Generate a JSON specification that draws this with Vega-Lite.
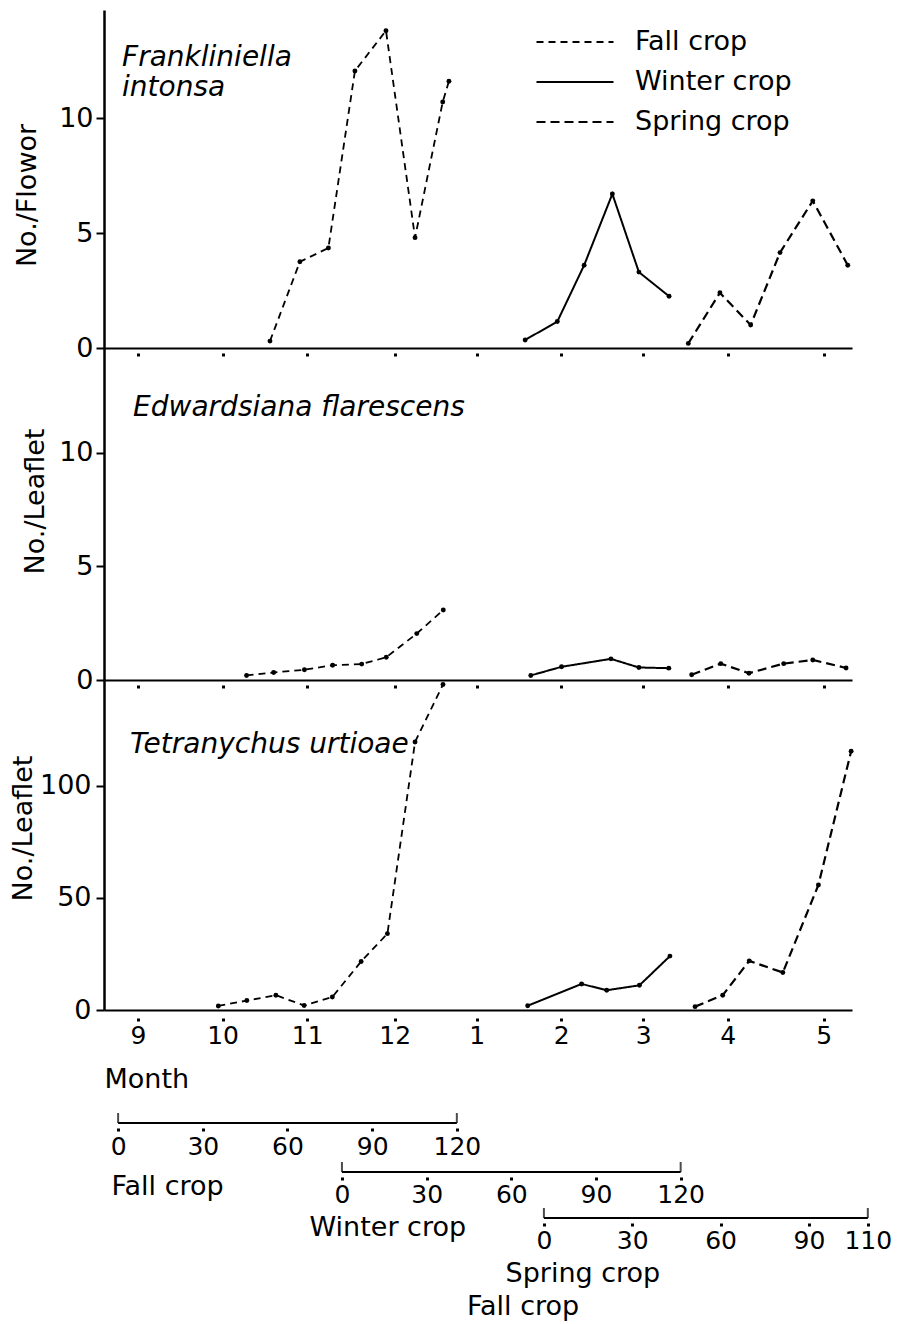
{
  "$schema": "https://vega.github.io/schema/vega-lite/v6.json",
  "background": "white",
  "padding": {"left": 9, "top": 10, "right": 4, "bottom": 4},
  "config": {
    "font": "DejaVu Sans",
    "view": {"stroke": null},
    "axis": {"labelFont": "DejaVu Sans", "titleFont": "DejaVu Sans", "labelColor": "black", "titleColor": "black", "domainColor": "black", "tickColor": "black", "grid": false, "titleFontWeight": "normal"},
    "legend": {"labelFont": "DejaVu Sans", "labelColor": "black"}
  },
  "datasets": {
    "fr": [
      {"crop": "Fall crop", "day": 53.8, "value": 0.3},
      {"crop": "Fall crop", "day": 64.4, "value": 3.75},
      {"crop": "Fall crop", "day": 74.5, "value": 4.35},
      {"crop": "Fall crop", "day": 83.9, "value": 12.05},
      {"crop": "Fall crop", "day": 94.9, "value": 13.8},
      {"crop": "Fall crop", "day": 105.2, "value": 4.8},
      {"crop": "Fall crop", "day": 115.0, "value": 10.7},
      {"crop": "Fall crop", "day": 117.2, "value": 11.6},
      {"crop": "Winter crop", "day": 144.2, "value": 0.35},
      {"crop": "Winter crop", "day": 155.6, "value": 1.15},
      {"crop": "Winter crop", "day": 165.1, "value": 3.6},
      {"crop": "Winter crop", "day": 175.1, "value": 6.7},
      {"crop": "Winter crop", "day": 184.5, "value": 3.3},
      {"crop": "Winter crop", "day": 195.2, "value": 2.25},
      {"crop": "Spring crop", "day": 202.0, "value": 0.2},
      {"crop": "Spring crop", "day": 213.2, "value": 2.4},
      {"crop": "Spring crop", "day": 224.1, "value": 1.0},
      {"crop": "Spring crop", "day": 234.5, "value": 4.15},
      {"crop": "Spring crop", "day": 246.1, "value": 6.4},
      {"crop": "Spring crop", "day": 258.5, "value": 3.6}
    ],
    "ed": [
      {"crop": "Fall crop", "day": 45.5, "value": 0.2},
      {"crop": "Fall crop", "day": 55.1, "value": 0.33},
      {"crop": "Fall crop", "day": 66.0, "value": 0.45},
      {"crop": "Fall crop", "day": 76.0, "value": 0.65},
      {"crop": "Fall crop", "day": 86.3, "value": 0.7},
      {"crop": "Fall crop", "day": 95.0, "value": 1.0},
      {"crop": "Fall crop", "day": 105.8, "value": 2.04},
      {"crop": "Fall crop", "day": 115.2, "value": 3.08},
      {"crop": "Winter crop", "day": 146.2, "value": 0.2},
      {"crop": "Winter crop", "day": 157.1, "value": 0.58},
      {"crop": "Winter crop", "day": 174.6, "value": 0.93},
      {"crop": "Winter crop", "day": 184.5, "value": 0.55},
      {"crop": "Winter crop", "day": 195.1, "value": 0.52},
      {"crop": "Spring crop", "day": 203.2, "value": 0.23},
      {"crop": "Spring crop", "day": 213.5, "value": 0.72},
      {"crop": "Spring crop", "day": 223.5, "value": 0.3},
      {"crop": "Spring crop", "day": 235.8, "value": 0.72},
      {"crop": "Spring crop", "day": 246.1, "value": 0.88},
      {"crop": "Spring crop", "day": 257.9, "value": 0.53}
    ],
    "te": [
      {"crop": "Fall crop", "day": 35.5, "value": 1.8},
      {"crop": "Fall crop", "day": 45.6, "value": 4.2},
      {"crop": "Fall crop", "day": 55.9, "value": 6.6},
      {"crop": "Fall crop", "day": 65.9, "value": 2.0},
      {"crop": "Fall crop", "day": 75.9, "value": 5.8},
      {"crop": "Fall crop", "day": 86.1, "value": 21.6},
      {"crop": "Fall crop", "day": 95.4, "value": 34},
      {"crop": "Fall crop", "day": 105.2, "value": 119.4},
      {"crop": "Fall crop", "day": 115.1, "value": 145},
      {"crop": "Winter crop", "day": 145.1, "value": 1.9},
      {"crop": "Winter crop", "day": 164.2, "value": 11.6},
      {"crop": "Winter crop", "day": 173.1, "value": 8.8},
      {"crop": "Winter crop", "day": 184.7, "value": 11},
      {"crop": "Winter crop", "day": 195.5, "value": 24},
      {"crop": "Spring crop", "day": 204.4, "value": 1.5},
      {"crop": "Spring crop", "day": 214.2, "value": 6.6},
      {"crop": "Spring crop", "day": 223.6, "value": 21.9},
      {"crop": "Spring crop", "day": 235.5, "value": 16.7},
      {"crop": "Spring crop", "day": 248.1, "value": 55.7},
      {"crop": "Spring crop", "day": 259.7, "value": 115.3}
    ]
  },
  "bounds": "flush",
  "spacing": 0,
  "vconcat": [
    {
      "width": 748,
      "height": 338,
      "layer": [
        {
          "data": {"name": "fr"},
          "mark": {"type": "line", "color": "black"},
          "encoding": {
            "x": {"field": "day", "type": "quantitative", "scale": {"domain": [-5, 260], "nice": false, "zero": false},
              "axis": {"values": [7, 37, 67, 98, 127, 157, 186, 216, 250], "labels": false, "title": null, "domainWidth": 2, "tickSize": 9, "tickWidth": 3, "tickDash": [0, 5, 3, 20]}},
            "y": {"field": "value", "type": "quantitative", "scale": {"domain": [0, 14.7], "nice": false},
              "axis": {"values": [0, 5, 10], "title": "No./Flowor", "titleFontSize": 27, "titleX": -77, "titleY": 185, "titleAngle": 270, "titleBaseline": "middle", "titleAlign": "center", "labelFontSize": 27, "labelPadding": 3, "tickSize": 8, "tickWidth": 2, "domainWidth": 2.5}},
            "strokeDash": {"field": "crop", "type": "nominal",
              "scale": {"domain": ["Fall crop", "Winter crop", "Spring crop"], "range": [[7, 5], [1, 0], [9, 5]]},
              "legend": {"orient": "none", "legendX": 431, "legendY": 17, "title": null, "symbolType": "stroke", "symbolSize": 5929, "symbolStrokeColor": "black", "labelFontSize": 27, "labelOffset": 20, "labelLimit": 300, "clipHeight": 30, "rowPadding": 10}},
            "strokeWidth": {"field": "crop", "type": "nominal",
              "scale": {"domain": ["Fall crop", "Winter crop", "Spring crop"], "range": [1.8, 2.2, 3.8]},
              "legend": {"orient": "none", "legendX": 431, "legendY": 17, "title": null, "symbolType": "stroke", "symbolSize": 5929, "symbolStrokeColor": "black", "labelFontSize": 27, "labelOffset": 20, "labelLimit": 300, "clipHeight": 30, "rowPadding": 10}}
          }
        },
        {
          "data": {"name": "fr"},
          "mark": {"type": "point", "filled": true, "color": "black", "size": 24, "opacity": 1},
          "encoding": {"x": {"field": "day", "type": "quantitative"}, "y": {"field": "value", "type": "quantitative"}}
        },
        {
          "data": {"values": [{"day": 1.4, "value": 12.26, "name": "Frankliniella\nintonsa"}]},
          "mark": {"type": "text", "fontStyle": "italic", "fontSize": 28, "align": "left", "baseline": "alphabetic", "lineHeight": 30, "lineBreak": "\n", "color": "black"},
          "encoding": {"x": {"field": "day", "type": "quantitative"}, "y": {"field": "value", "type": "quantitative"}, "text": {"field": "name"}}
        }
      ]
    },
    {
      "width": 748,
      "height": 332,
      "layer": [
        {
          "data": {"name": "ed"},
          "mark": {"type": "line", "color": "black"},
          "encoding": {
            "x": {"field": "day", "type": "quantitative", "scale": {"domain": [-5, 260], "nice": false, "zero": false},
              "axis": {"values": [7, 37, 67, 98, 127, 157, 186, 216, 250], "labels": false, "title": null, "domainWidth": 2, "tickSize": 9, "tickWidth": 3, "tickDash": [0, 5, 3, 20]}},
            "y": {"field": "value", "type": "quantitative", "scale": {"domain": [0, 14.6], "nice": false},
              "axis": {"values": [0, 5, 10], "title": "No./Leaflet", "titleFontSize": 27, "titleX": -69, "titleY": 153, "titleAngle": 270, "titleBaseline": "middle", "titleAlign": "center", "labelFontSize": 27, "labelPadding": 3, "tickSize": 8, "tickWidth": 2, "domainWidth": 2.5}},
            "strokeDash": {"field": "crop", "type": "nominal", "legend": null},
            "strokeWidth": {"field": "crop", "type": "nominal", "legend": null}
          }
        },
        {
          "data": {"name": "ed"},
          "mark": {"type": "point", "filled": true, "color": "black", "size": 24, "opacity": 1},
          "encoding": {"x": {"field": "day", "type": "quantitative"}, "y": {"field": "value", "type": "quantitative"}}
        },
        {
          "data": {"values": [{"day": 5.3, "value": 11.6, "name": "Edwardsiana flarescens"}]},
          "mark": {"type": "text", "fontStyle": "italic", "fontSize": 28, "align": "left", "baseline": "alphabetic", "color": "black"},
          "encoding": {"x": {"field": "day", "type": "quantitative"}, "y": {"field": "value", "type": "quantitative"}, "text": {"field": "name"}}
        }
      ]
    },
    {
      "width": 748,
      "height": 330,
      "layer": [
        {
          "data": {"name": "te"},
          "mark": {"type": "line", "color": "black"},
          "encoding": {
            "x": {"field": "day", "type": "quantitative", "scale": {"domain": [-5, 260], "nice": false, "zero": false},
              "axis": {"values": [7, 37, 67, 98, 127, 157, 186, 216, 250],
                "labelExpr": "datum.value == 7 ? '9' : datum.value == 37 ? '10' : datum.value == 67 ? '11' : datum.value == 98 ? '12' : datum.value == 127 ? '1' : datum.value == 157 ? '2' : datum.value == 186 ? '3' : datum.value == 216 ? '4' : '5'",
                "labelFontSize": 25, "labelPadding": 1, "labelFlush": false, "labelOverlap": false,
                "title": "Month", "titleFontSize": 27, "titleX": 0, "titleY": 77, "titleAlign": "left", "titleAnchor": "start", "titleBaseline": "alphabetic",
                "domainWidth": 2, "tickSize": 12, "tickWidth": 3, "tickDash": [0, 8, 3, 20]}},
            "y": {"field": "value", "type": "quantitative", "scale": {"domain": [0, 147], "nice": false},
              "axis": {"values": [0, 50, 100], "title": "No./Leaflet", "titleFontSize": 27, "titleX": -81, "titleY": 148, "titleAngle": 270, "titleBaseline": "middle", "titleAlign": "center", "labelFontSize": 27, "labelPadding": 5, "tickSize": 8, "tickWidth": 2, "domainWidth": 2.5}},
            "strokeDash": {"field": "crop", "type": "nominal", "legend": null},
            "strokeWidth": {"field": "crop", "type": "nominal", "legend": null}
          }
        },
        {
          "data": {"name": "te"},
          "mark": {"type": "point", "filled": true, "color": "black", "size": 24, "opacity": 1},
          "encoding": {"x": {"field": "day", "type": "quantitative"}, "y": {"field": "value", "type": "quantitative"}}
        },
        {
          "data": {"values": [{"day": 4.2, "value": 114.5, "name": "Tetranychus urtioae"}]},
          "mark": {"type": "text", "fontStyle": "italic", "fontSize": 28, "align": "left", "baseline": "alphabetic", "color": "black"},
          "encoding": {"x": {"field": "day", "type": "quantitative"}, "y": {"field": "value", "type": "quantitative"}, "text": {"field": "name"}}
        }
      ]
    },
    {
      "width": 748,
      "height": 113,
      "layer": [
        {
          "data": {"values": [{"start": 0, "end": 120}]},
          "mark": {"type": "rule", "color": "black", "strokeWidth": 2},
          "encoding": {
            "x": {"field": "start", "type": "quantitative", "scale": {"domain": [-5, 260], "nice": false, "zero": false},
              "axis": {"values": [0, 30, 60, 90, 120], "domain": false, "tickSize": 10, "tickWidth": 3, "tickDash": [0, 5, 3, 20], "labelFontSize": 25, "labelPadding": 1, "labelFlush": false, "labelOverlap": false,
                "title": "Fall crop", "titleFontSize": 27, "titleX": 7, "titleY": 71, "titleAlign": "left", "titleAnchor": "start", "titleBaseline": "alphabetic"}},
            "x2": {"field": "end"},
            "y": {"datum": 0, "type": "quantitative", "scale": {"domain": [0, 1]}, "axis": null}
          }
        },
        {
          "data": {"values": [{"cap": 0}, {"cap": 120}]},
          "mark": {"type": "tick", "orient": "vertical", "color": "black", "thickness": 2, "size": 10, "yOffset": -5},
          "encoding": {"x": {"field": "cap", "type": "quantitative"}, "y": {"datum": 0, "type": "quantitative"}}
        }
      ]
    },
    {
      "width": 748,
      "height": 49,
      "layer": [
        {
          "data": {"values": [{"start": 0, "end": 120}]},
          "mark": {"type": "rule", "color": "black", "strokeWidth": 2},
          "encoding": {
            "x": {"field": "start", "type": "quantitative", "scale": {"domain": [-84.3, 180.7], "nice": false, "zero": false},
              "axis": {"values": [0, 30, 60, 90, 120], "domain": false, "tickSize": 10, "tickWidth": 3, "tickDash": [0, 5, 3, 20], "labelFontSize": 25, "labelPadding": 0, "labelFlush": false, "labelOverlap": false,
                "title": "Winter crop", "titleFontSize": 27, "titleX": 205, "titleY": 63, "titleAlign": "left", "titleAnchor": "start", "titleBaseline": "alphabetic"}},
            "x2": {"field": "end"},
            "y": {"datum": 0, "type": "quantitative", "scale": {"domain": [0, 1]}, "axis": null}
          }
        },
        {
          "data": {"values": [{"cap": 0}, {"cap": 120}]},
          "mark": {"type": "tick", "orient": "vertical", "color": "black", "thickness": 2, "size": 10, "yOffset": -5},
          "encoding": {"x": {"field": "cap", "type": "quantitative"}, "y": {"datum": 0, "type": "quantitative"}}
        }
      ]
    },
    {
      "width": 770,
      "height": 46,
      "title": {"text": "Fall crop", "orient": "bottom", "anchor": "start", "frame": "group", "dx": 363, "offset": 8, "fontSize": 27, "fontWeight": "normal", "font": "DejaVu Sans", "color": "black"},
      "layer": [
        {
          "data": {"values": [{"start": 0, "end": 110}]},
          "mark": {"type": "rule", "color": "black", "strokeWidth": 2},
          "encoding": {
            "x": {"field": "start", "type": "quantitative", "scale": {"domain": [-149.4, 112.1], "nice": false, "zero": false},
              "axis": {"values": [0, 30, 60, 90, 110], "domain": false, "tickSize": 10, "tickWidth": 3, "tickDash": [0, 5, 3, 20], "labelFontSize": 25, "labelPadding": 0, "labelFlush": false, "labelOverlap": false,
                "title": "Spring crop", "titleFontSize": 27, "titleX": 401, "titleY": 63, "titleAlign": "left", "titleAnchor": "start", "titleBaseline": "alphabetic"}},
            "x2": {"field": "end"},
            "y": {"datum": 0, "type": "quantitative", "scale": {"domain": [0, 1]}, "axis": null}
          }
        },
        {
          "data": {"values": [{"cap": 0}, {"cap": 110}]},
          "mark": {"type": "tick", "orient": "vertical", "color": "black", "thickness": 2, "size": 10, "yOffset": -5},
          "encoding": {"x": {"field": "cap", "type": "quantitative"}, "y": {"datum": 0, "type": "quantitative"}}
        }
      ]
    }
  ]
}
